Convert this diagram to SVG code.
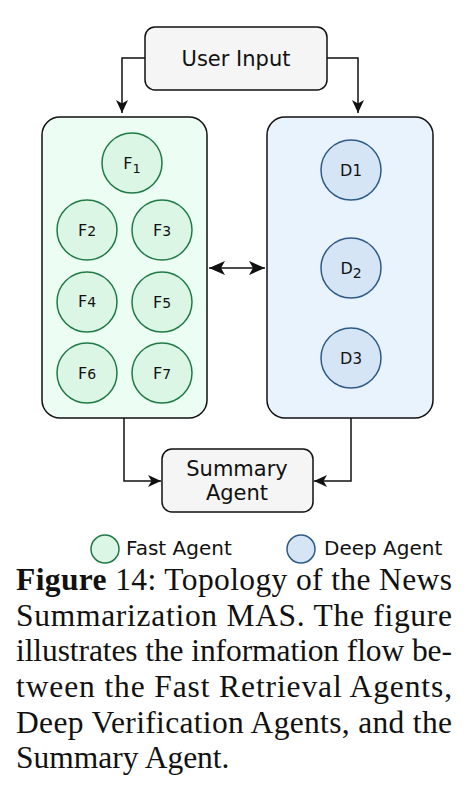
<svg xmlns="http://www.w3.org/2000/svg" width="473" height="785" viewBox="0 0 473 785">
<style>
.sans{font-family:"DejaVu Sans",Verdana,sans-serif;fill:#111}
.box{fill:#f5f5f5;stroke:#111;stroke-width:1.5}
.fc{fill:#dcf6e6;stroke:#1f7a45;stroke-width:1.5}
.dc{fill:#d5e5f5;stroke:#2d5b87;stroke-width:1.5}
.lbl{font-family:"DejaVu Sans",Verdana,sans-serif;font-size:16px;fill:#111;text-anchor:middle}
.con{fill:none;stroke:#111;stroke-width:1.5}
.cap{font-family:"Liberation Serif","Times New Roman",serif;font-size:31.5px;fill:#111}
</style>
<defs>
<marker id="ah" markerUnits="userSpaceOnUse" markerWidth="14" markerHeight="12" viewBox="0 0 14 12" refX="13" refY="6" orient="auto-start-reverse">
<path d="M0,0 L13,6 L0,12 L3.5,6 Z" fill="#111"/>
</marker>
<marker id="ah2" markerUnits="userSpaceOnUse" markerWidth="17" markerHeight="14" viewBox="0 0 17 14" refX="16" refY="7" orient="auto-start-reverse">
<path d="M0,0 L16,7 L0,14 L4,7 Z" fill="#111"/>
</marker>
</defs>
<rect width="473" height="785" fill="#fff"/>
<g id="fast-group">
<rect x="42" y="117" width="165" height="301" rx="18" fill="#ecfdf3" stroke="#111" stroke-width="1.5"/>
</g>
<g id="deep-group">
<rect x="267" y="117" width="166" height="301" rx="18" fill="#e9f3fd" stroke="#111" stroke-width="1.5"/>
</g>
<g id="connectors">
<path class="con" d="M145,58 H122 V113" marker-end="url(#ah)"/>
<path class="con" d="M327,58 H358 V113" marker-end="url(#ah)"/>
<path class="con" d="M209,268 H265" stroke-width="2.5" marker-start="url(#ah2)" marker-end="url(#ah2)"/>
<path class="con" d="M124,418 V481 H161" marker-end="url(#ah)"/>
<path class="con" d="M351,418 V481 H314" marker-end="url(#ah)"/>
</g>
<g id="user-input">
<rect class="box" x="145" y="27" width="182" height="63" rx="10"/>
<text class="sans" x="236" y="66" font-size="21" text-anchor="middle">User Input</text>
</g>
<g id="summary-agent">
<rect class="box" x="162" y="449" width="151" height="63" rx="10"/>
<text class="sans" x="237" y="476" font-size="21" text-anchor="middle">Summary</text>
<text class="sans" x="237" y="500" font-size="21" text-anchor="middle">Agent</text>
</g>
<g id="F1"><circle class="fc" cx="132" cy="163" r="30"/><text class="lbl" x="132" y="169">F<tspan font-size="13" dy="4">1</tspan></text></g>
<g id="F2"><circle class="fc" cx="87" cy="230" r="30"/><text class="lbl" x="87" y="236">F<tspan font-size="14">2</tspan></text></g>
<g id="F3"><circle class="fc" cx="162" cy="230" r="30"/><text class="lbl" x="162" y="236">F<tspan font-size="14">3</tspan></text></g>
<g id="F4"><circle class="fc" cx="87" cy="302" r="30"/><text class="lbl" x="87" y="307">F<tspan font-size="14">4</tspan></text></g>
<g id="F5"><circle class="fc" cx="162" cy="302" r="30"/><text class="lbl" x="162" y="308">F<tspan font-size="14">5</tspan></text></g>
<g id="F6"><circle class="fc" cx="87" cy="373" r="30"/><text class="lbl" x="87" y="379">F<tspan font-size="14">6</tspan></text></g>
<g id="F7"><circle class="fc" cx="162" cy="373" r="30"/><text class="lbl" x="162" y="379">F<tspan font-size="14">7</tspan></text></g>
<g id="D1"><circle class="dc" cx="351" cy="170" r="30"/><text class="lbl" x="351" y="176" font-size="17">D<tspan font-size="15">1</tspan></text></g>
<g id="D2"><circle class="dc" cx="351" cy="268" r="30"/><text class="lbl" x="351" y="274" font-size="17">D<tspan font-size="14" dy="4">2</tspan></text></g>
<g id="D3"><circle class="dc" cx="351" cy="358" r="30"/><text class="lbl" x="351" y="364" font-size="17">D<tspan font-size="15">3</tspan></text></g>
<g id="legend">
<circle class="fc" cx="105" cy="549" r="14"/>
<text class="sans" x="126" y="555" font-size="20">Fast Agent</text>
<circle class="dc" cx="301" cy="549" r="14"/>
<text class="sans" x="324" y="555" font-size="20">Deep Agent</text>
</g>
<g id="caption">
<text class="cap" x="16" y="590" textLength="436" lengthAdjust="spacing"><tspan font-weight="bold">Figure</tspan> 14: Topology of the News</text>
<text class="cap" x="16" y="625.5" textLength="436" lengthAdjust="spacing">Summarization MAS. The figure</text>
<text class="cap" x="16" y="661" textLength="436" lengthAdjust="spacing">illustrates the information flow be-</text>
<text class="cap" x="16" y="697" textLength="436" lengthAdjust="spacing">tween the Fast Retrieval Agents,</text>
<text class="cap" x="16" y="732.5" textLength="436" lengthAdjust="spacing">Deep Verification Agents, and the</text>
<text class="cap" x="16" y="768">Summary Agent.</text>
</g>
</svg>
